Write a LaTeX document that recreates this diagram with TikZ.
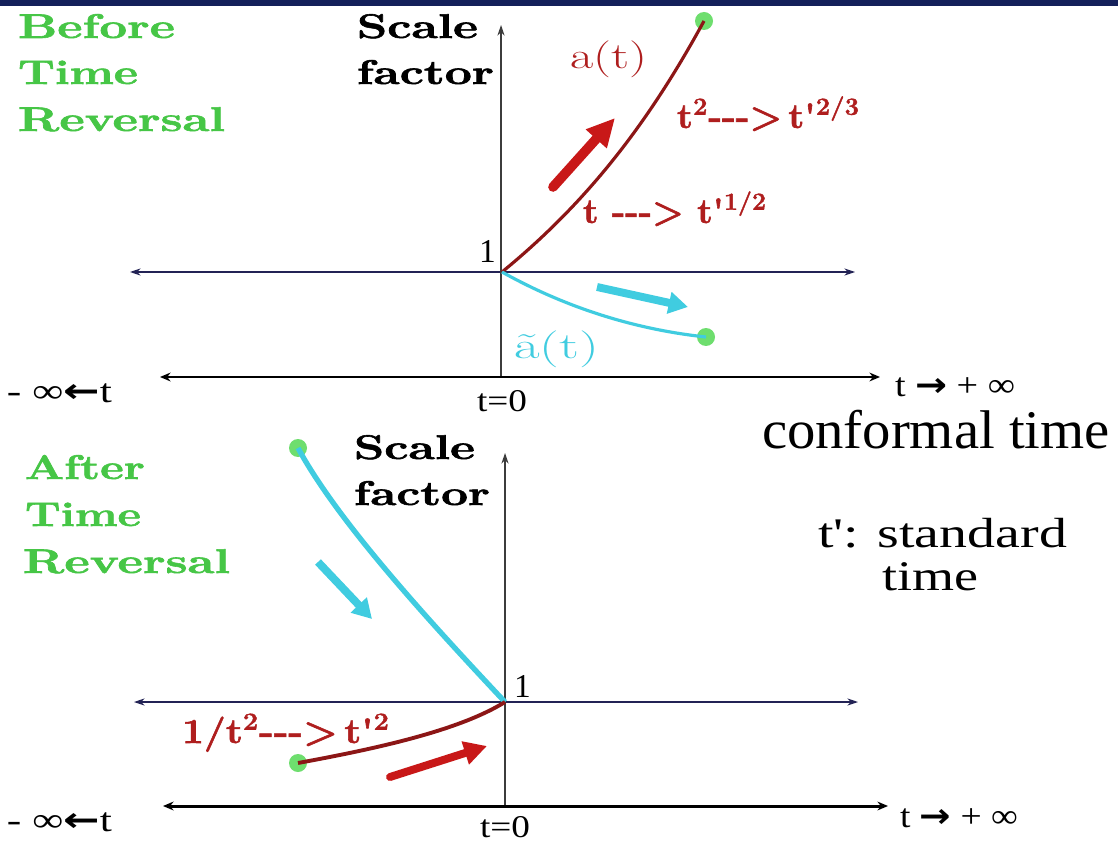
\documentclass[tikz,border=0pt]{standalone}
\usepackage{fontspec}
\usepackage{graphicx}
\usetikzlibrary{arrows.meta}
\newfontfamily\libser{Liberation Serif}
\newfontfamily\djv{DejaVu Sans}
\newfontfamily\lmheavy[BoldFeatures={FakeBold=1.6}]{Latin Modern Roman}
\newcommand{\fitw}[2]{\resizebox{#1}{\height}{#2}}
\newcommand{\apos}{\textquotesingle}
\definecolor{navyband}{RGB}{20,32,90}
\definecolor{gtxt}{RGB}{70,198,70}
\definecolor{gdot}{RGB}{110,222,110}
\definecolor{rtxt}{RGB}{175,30,30}
\definecolor{rcurve}{RGB}{140,22,22}
\definecolor{rarrow}{RGB}{200,24,24}
\definecolor{cyn}{RGB}{64,204,224}
\definecolor{axnavy}{RGB}{35,35,85}
\definecolor{axgray}{RGB}{60,60,60}
\tikzset{
  lbl/.style={inner sep=0pt, outer sep=0pt, anchor=base west},
  greenlbl/.style={lbl, text=gtxt, font=\lmheavy\fontsize{19.5}{19.5}\selectfont\bfseries},
  blacklbl/.style={lbl, text=black, font=\lmheavy\fontsize{19.5}{19.5}\selectfont\bfseries},
  redlbl/.style={lbl, text=rtxt, font=\lmheavy\fontsize{20}{20}\selectfont\bfseries},
  curvelbl/.style={lbl, font=\fontsize{21}{21}\selectfont},
  serlbl/.style={lbl, font=\libser\fontsize{19}{19}\selectfont},
  bigser/.style={lbl, font=\libser\fontsize{31}{31}\selectfont},
  medser/.style={lbl, font=\libser\fontsize{24}{24}\selectfont},
  gdotnode/.style={circle, fill=gdot, minimum size=0.36cm, inner sep=0pt},
  thinax/.style={draw=axnavy, line width=0.7pt, arrows={Stealth[length=6pt,width=4pt]-Stealth[length=6pt,width=4pt]}},
  thickax/.style={draw=black, line width=1.7pt, arrows={Stealth[length=6pt,width=5pt]-Stealth[length=6pt,width=5pt]}},
  vax/.style={draw=axgray, line width=0.7pt, arrows={-Stealth[length=6pt,width=4pt]}},
  redcurve/.style={draw=rcurve, line width=1.8pt},
  cyancurve/.style={draw=cyn, line width=1.8pt},
  bigred/.style={draw=rarrow, line width=5.5pt, line cap=round, arrows={-Triangle[length=16pt,width=15pt]}},
  cyanarrow/.style={draw=cyn, line width=4.5pt, arrows={-Triangle[length=11pt,width=12pt]}},
}
\begin{document}
\begin{tikzpicture}[x=0.02cm, y=-0.02cm]
\useasboundingbox (0,0) rectangle (1118,844);
\fill[white] (0,0) rectangle (1118,844);
\fill[navyband] (0,0) rectangle (1118,6);

% ---------------- top panel ----------------
\coordinate (O1) at (502,272);
\coordinate (L1) at (130,272);
\coordinate (R1) at (855,272);
\coordinate (B1) at (501,377);
\coordinate (T1) at (501,25);
\coordinate (TL1) at (160,377);
\coordinate (TR1) at (880,377);
\draw[thinax] (L1) -- (R1);
\draw[vax] (B1) -- (T1);
\draw[thickax] (TL1) -- (TR1);

\node[gdotnode] (dA) at (704,21) {};
\node[gdotnode] (dB) at (706,337) {};
\draw[redcurve] (O1) .. controls (590,200) and (650,120) .. (dA.center);
\draw[cyancurve] (O1) .. controls (570,310) and (640,330) .. (dB.center);

\coordinate (ra1) at (553,187);
\coordinate (ra2) at (615,118);
\draw[bigred] (ra1) -- (ra2);
\coordinate (ca1) at (597,287);
\coordinate (ca2) at (688,307);
\draw[cyanarrow] (ca1) -- (ca2);

\node[greenlbl] (bef1) at (18,38) {\fitw{3.14cm}{Before}};
\node[greenlbl] (bef2) at (18,84) {\fitw{2.4cm}{Time}};
\node[greenlbl] (bef3) at (18,131) {\fitw{4.14cm}{Reversal}};
\node[blacklbl] (sc1) at (357,38) {\fitw{2.42cm}{Scale}};
\node[blacklbl] (fa1) at (357,84) {\fitw{2.74cm}{factor}};
\node[curvelbl, text=rtxt] (at) at (570,69) {\fitw{1.54cm}{a(t)}};
\node[redlbl] (law1) at (677,128) {\fitw{3.66cm}{t\textsuperscript{2}-{}-{}->\,t\apos\textsuperscript{2/3}}};
\node[redlbl] (law2) at (583,223) {\fitw{3.68cm}{t -{}-{}-> t\apos\textsuperscript{1/2}}};
\node[curvelbl, text=cyn] (att) at (514,358) {\fitw{1.7cm}{\~{a}(t)}};
\node[serlbl] (one1) at (479,263) {1};
\node[serlbl] (minf1) at (7,402) {\fitw{2.1cm}{- ∞{\djv\bfseries ←}t}};
\node[serlbl, anchor=base, font=\libser\fontsize{18}{18}\selectfont] (tz1) at (502,411) {\fitw{1.0cm}{t=0}};
\node[serlbl] (pinf1) at (895,396) {\fitw{2.4cm}{t {\djv\bfseries →} + ∞}};
\node[bigser] (conf) at (762,448) {\fitw{6.96cm}{conformal time}};

% ---------------- bottom panel ----------------
\coordinate (O2) at (505,702);
\coordinate (L2) at (134,702);
\coordinate (R2) at (858,702);
\coordinate (B2) at (505,806);
\coordinate (T2) at (505,453);
\coordinate (TL2) at (163,806);
\coordinate (TR2) at (888,806);
\draw[thinax] (L2) -- (R2);
\draw[vax] (B2) -- (T2);
\draw[thickax] (TL2) -- (TR2);

\node[gdotnode] (dC) at (298,448) {};
\node[gdotnode] (dD) at (298,763) {};
\draw[cyancurve, line width=3pt] (dC.center) .. controls (338,522) and (430,622) .. (O2);
\draw[redcurve, line width=2.2pt] (dD.center) .. controls (380,748) and (460,730) .. (O2);

\coordinate (ca3) at (318,562);
\coordinate (ca4) at (372,619);
\draw[cyanarrow] (ca3) -- (ca4);
\coordinate (ra3) at (390,777);
\coordinate (ra4) at (487,746);
\draw[bigred, line width=4.5pt, arrows={-Triangle[length=13pt,width=13pt]}] (ra3) -- (ra4);

\node[greenlbl] (aft1) at (25,479) {\fitw{2.4cm}{After}};
\node[greenlbl] (aft2) at (25,526) {\fitw{2.32cm}{Time}};
\node[greenlbl] (aft3) at (23,573) {\fitw{4.14cm}{Reversal}};
\node[blacklbl] (sc2) at (354,459) {\fitw{2.42cm}{Scale}};
\node[blacklbl] (fa2) at (354,505) {\fitw{2.72cm}{factor}};
\node[serlbl] (one2) at (514,697) {1};
\node[redlbl] (law3) at (182,743) {\fitw{4.16cm}{1/t\textsuperscript{2}-{}-{}->\,t\apos\textsuperscript{2}}};
\node[medser] (std1) at (818,547) {\fitw{4.98cm}{t\apos: standard}};
\node[medser] (std2) at (882,590) {\fitw{1.92cm}{time}};
\node[serlbl] (minf2) at (7,831) {\fitw{2.1cm}{- ∞{\djv\bfseries ←}t}};
\node[serlbl, anchor=base, font=\libser\fontsize{18}{18}\selectfont] (tz2) at (505,837) {\fitw{1.0cm}{t=0}};
\node[serlbl] (pinf2) at (900,827) {\fitw{2.36cm}{t {\djv\bfseries →} + ∞}};
\end{tikzpicture}
\end{document}
